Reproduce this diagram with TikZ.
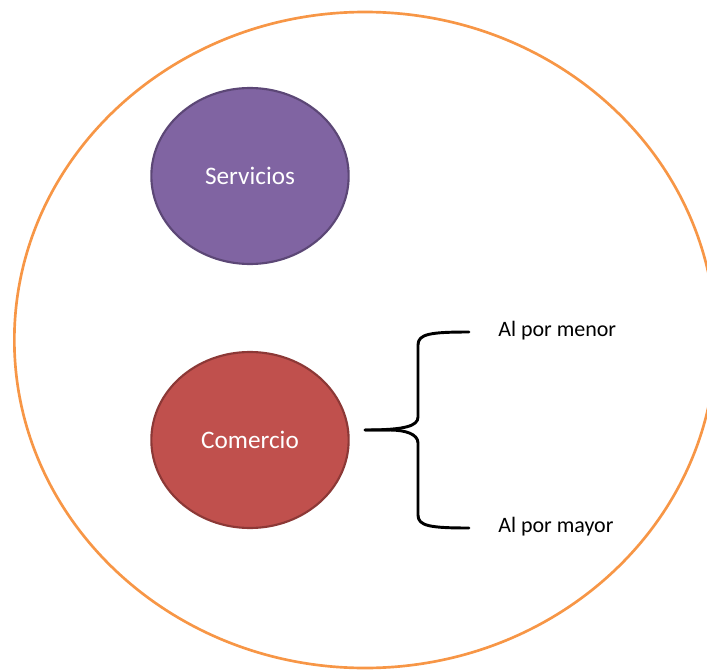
\documentclass[tikz,border=0pt]{standalone}
\usepackage{fontspec}
\setmainfont{Carlito}
\usetikzlibrary{shapes.geometric}
\definecolor{orangeO}{RGB}{247,150,70}
\definecolor{purpF}{RGB}{128,100,162}
\definecolor{purpD}{RGB}{92,71,118}
\definecolor{redF}{RGB}{192,80,77}
\definecolor{redD}{RGB}{140,56,54}
\tikzset{
  blob/.style={ellipse, draw, line width=1.6pt, minimum width=148pt, minimum height=132pt, inner sep=0pt, text=white, font=\fontsize{18.9}{22}\selectfont},
  lbl/.style={anchor=west, inner sep=0pt, font=\fontsize{16.5}{19}\selectfont},
  bracepath/.style={line width=2.2pt, line cap=round, line join=round}
}
\begin{document}
\begin{tikzpicture}[x=0.75pt,y=-0.75pt]
\useasboundingbox (0,0) rectangle (707,671);
\begin{scope}
\clip (0,0) rectangle (707,671);
\node[ellipse, draw=orangeO, line width=2pt, minimum width=526pt, minimum height=492pt, inner sep=0pt] (outer) at (365,340) {};
\end{scope}
\node[blob, fill=purpF, draw=purpD] (serv) at (250,176) {Servicios};
\node[blob, fill=redF, draw=redD] (com) at (250,440) {Comercio};
\node[lbl] (menor) at (498,331) {Al por menor};
\node[lbl] (mayor) at (498,527) {Al por mayor};
\coordinate (tip) at (365,430);
\coordinate (btop) at (469,332);
\coordinate (bbot) at (469,528);
\draw[bracepath] (btop) .. controls (430,332) and (418,334) .. (418,345)
  -- (418,417) .. controls (418,426) and (405,430) .. (tip)
  -- (390,430);
\draw[bracepath] (tip) -- (390,430) .. controls (405,430) and (418,434) .. (418,443)
  -- (418,515) .. controls (418,526) and (430,528) .. (bbot);
\end{tikzpicture}
\end{document}
